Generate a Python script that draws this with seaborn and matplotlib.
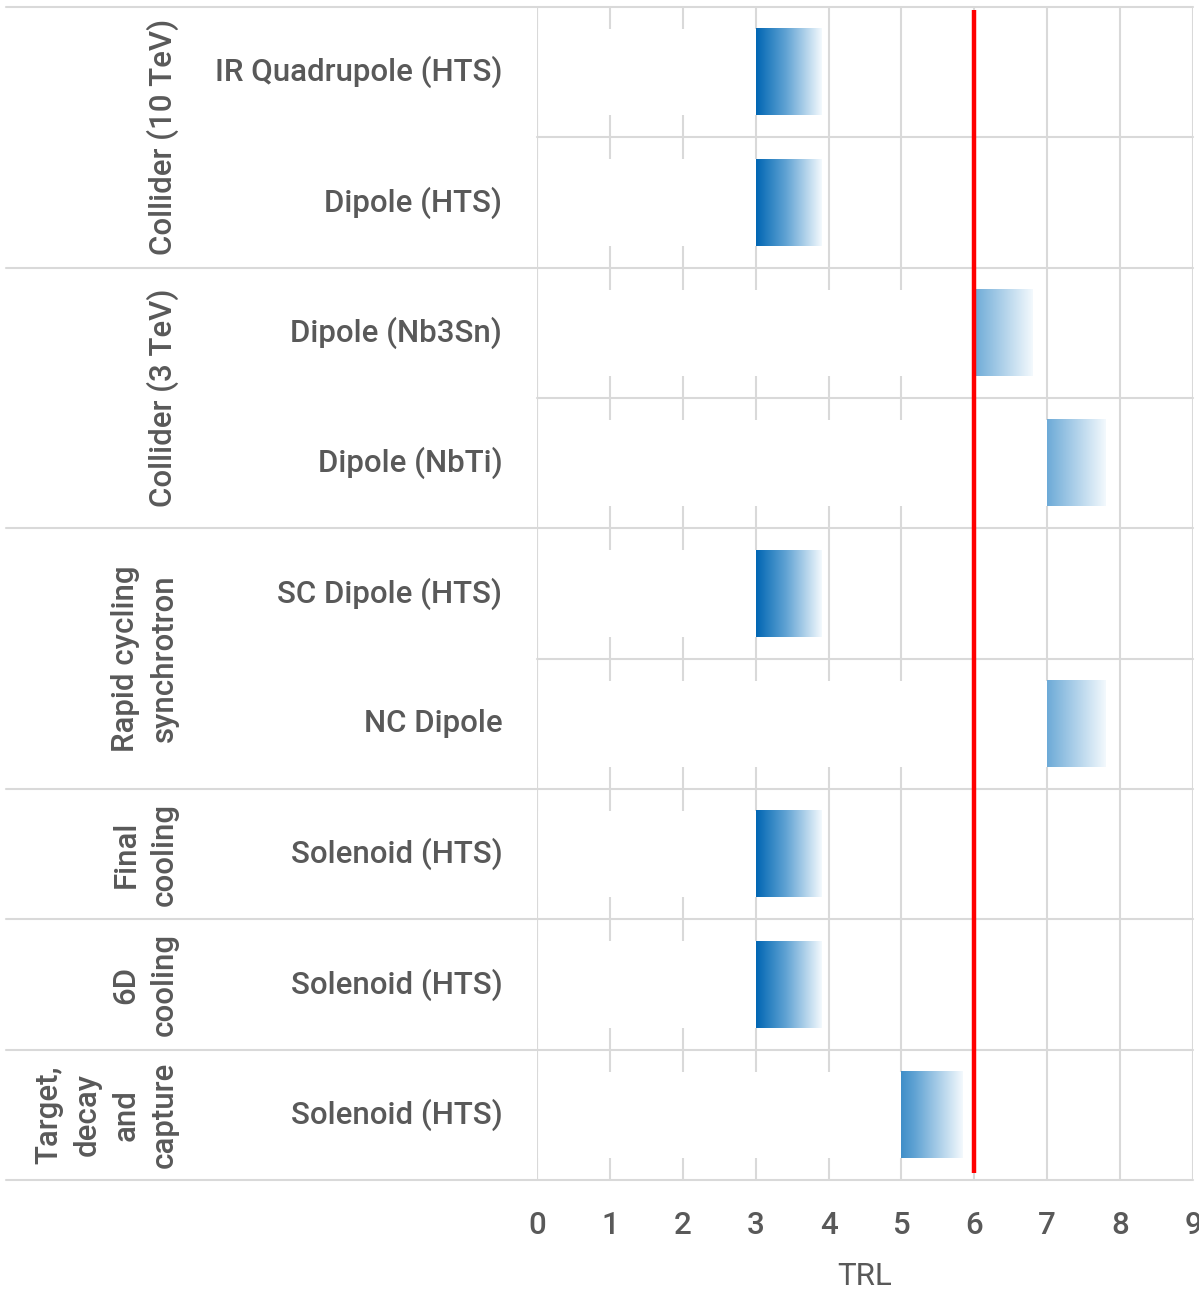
import numpy as np
import pandas as pd
import matplotlib
matplotlib.use("Agg")
import matplotlib.pyplot as plt
import seaborn as sns
from matplotlib.colors import LinearSegmentedColormap
from matplotlib.transforms import blended_transform_factory

# ---------------- data ----------------
groups = ["Collider (10 TeV)", "Collider (10 TeV)",
          "Collider (3 TeV)", "Collider (3 TeV)",
          "Rapid cycling\nsynchrotron", "Rapid cycling\nsynchrotron",
          "Final\ncooling", "6D\ncooling", "Target,\ndecay\nand\ncapture"]
components = ["IR Quadrupole (HTS)", "Dipole (HTS)", "Dipole (Nb3Sn)", "Dipole (NbTi)",
              "SC Dipole (HTS)", "NC Dipole", "Solenoid (HTS)", "Solenoid (HTS)",
              "Solenoid (HTS)"]
trl_start = [3, 3, 6, 7, 3, 7, 3, 3, 5]
trl_end = [3.9, 3.9, 6.8, 7.8, 3.9, 7.8, 3.9, 3.9, 5.85]
trl_target = 6
x_ticks = [0, 1, 2, 3, 4, 5, 6, 7, 8, 9]
x_label = "TRL"

# style: where in the blue gradient each bar begins
gradient_offset = [0.0, 0.0, 0.5, 0.5, 0.0, 0.5, 0.0, 0.0, 0.3]

# ---------------- style ----------------
sns.set_theme(style="white")
plt.rcParams["font.family"] = ["Roboto", "DejaVu Sans"]
plt.rcParams["font.weight"] = "medium"
TXT = "#595959"
GRID = "#d9d9d9"
FS = 22.5

W, H = 1199, 1289
fig = plt.figure(figsize=(W / 100, H / 100), dpi=100)
left_px, right_px, top_px, bot_px = 537, 1193, 7, 1180
ax = fig.add_axes([left_px / W, 1 - bot_px / H, (right_px - left_px) / W, (bot_px - top_px) / H])

df = pd.DataFrame({
    "row": [f"{i}" for i in range(len(components))],
    "start": trl_start,
    "end": trl_end,
})
n = len(df)

# geometry bars (invisible), full extent to the end of each bar
sns.barplot(data=df, x="end", y="row", orient="h", color="white", width=0.66,
            errorbar=None, ax=ax, linewidth=0, zorder=1)
geo = list(ax.patches)
for p in geo:
    p.set_alpha(0)

# gradient segments
cmap = LinearSegmentedColormap.from_list(
    "trl", [(0.0, "#0066B3"), (0.45, "#5FA2D3"), (1.0, "#F3F9FD")])
for p, s, e, off in zip(geo, df["start"], df["end"], gradient_offset):
    y0 = p.get_y()
    h = p.get_height()
    grad = cmap(np.linspace(off, 1.0, 256))[np.newaxis, :, :]
    ax.imshow(grad, extent=[s, e, y0 + h, y0], aspect="auto",
              interpolation="bilinear", zorder=2)

# white "spacer" segments from 0 to start (hide the grid behind them)
sns.barplot(data=df, x="start", y="row", orient="h", color="white", width=0.66,
            errorbar=None, ax=ax, linewidth=0, saturation=1)
for p in ax.patches[len(geo):]:
    p.set_facecolor("white")
    p.set_zorder(1.5)

ax.set_xlim(0, 9)
ax.set_ylim(n - 0.5, -0.5)

# vertical grid
ax.set_xticks(x_ticks)
ax.grid(axis="x", color=GRID, linewidth=1.5)
ax.grid(axis="y", visible=False)
ax.set_axisbelow(True)
ax.axvline(0, color=GRID, linewidth=1.5, zorder=3)

# horizontal separators
label_left = (6 - left_px) / (right_px - left_px)
for b in range(n + 1):
    yb = b - 0.5
    is_group = b == 0 or b == n or groups[b] != groups[b - 1]
    ax.axhline(yb, xmin=label_left if is_group else 0, xmax=1, color=GRID,
               linewidth=1.5, clip_on=False, zorder=3)

# target line
ax.vlines(trl_target, n - 0.5 - 0.055, -0.5 + 0.02, color="#FF0000", linewidth=3.2, zorder=4)

for sp in ax.spines.values():
    sp.set_visible(False)

# axis labels
ax.tick_params(axis="x", length=0, pad=22, labelsize=FS, labelcolor=TXT)
ax.set_xlabel(x_label, fontsize=FS, color=TXT, labelpad=16)
ax.set_yticks(range(n))
ax.set_yticklabels(components)
ax.tick_params(axis="y", length=0, pad=25, labelsize=FS, labelcolor=TXT)
for t in ax.get_yticklabels():
    t.set_va("center")
ax.set_ylabel("")

# group labels
tr = blended_transform_factory(fig.transFigure, ax.transData)
seen = []
for g in groups:
    if g not in seen:
        seen.append(g)
for g in seen:
    idx = [i for i, gg in enumerate(groups) if gg == g]
    yc = np.mean(idx)
    ax.text(179 / W, yc, g, transform=tr, rotation=90, ha="right", va="center",
            multialignment="center", linespacing=1.42, fontsize=FS, color=TXT)

fig.savefig("out.png", dpi=100)
